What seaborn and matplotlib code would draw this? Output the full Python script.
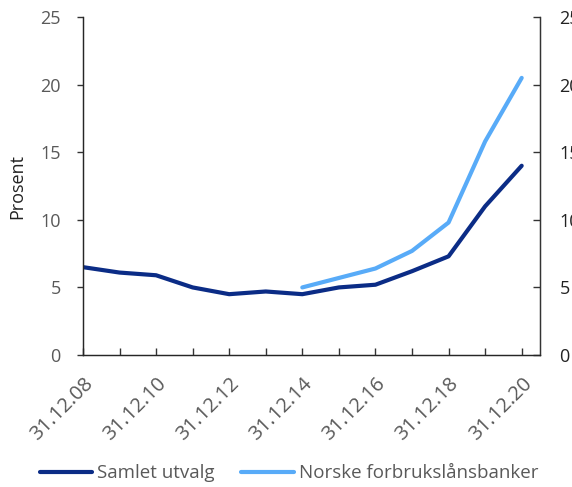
import numpy as np
import pandas as pd
import matplotlib
matplotlib.use("Agg")
import matplotlib.pyplot as plt
import seaborn as sns

# data
years = list(range(2008, 2021))
samlet = [6.5, 6.1, 5.9, 5.0, 4.5, 4.7, 4.5, 5.0, 5.2, 6.2, 7.3, 11.0, 14.0]
norske_years = list(range(2014, 2021))
norske = [5.0, 5.7, 6.4, 7.7, 9.8, 15.8, 20.5]
tick_years = list(range(2008, 2021, 2))
tick_labels = ["31.12.%02d" % (y % 100) for y in tick_years]
y_ticks = [0, 5, 10, 15, 20, 25]

dark = "#0B2C86"
light = "#58ABF8"
grey = "#595959"

sns.set_style("ticks")
plt.rcParams["font.family"] = ["Open Sans", "DejaVu Sans"]

df = pd.concat([
    pd.DataFrame({"year": years, "value": samlet, "serie": "Samlet utvalg"}),
    pd.DataFrame({"year": norske_years, "value": norske, "serie": "Norske forbrukslånsbanker"}),
])

fig = plt.figure(figsize=(5.72, 4.87), dpi=100)
ax = fig.add_axes([0.145, 0.271, 0.799, 0.694])

sns.lineplot(data=df, x="year", y="value", hue="serie",
             palette={"Samlet utvalg": dark, "Norske forbrukslånsbanker": light},
             linewidth=3, ax=ax, legend=False)

ax.set_xlim(2008, 2020.5)
ax.set_ylim(0, 25)
ax.set_xticks(tick_years)
ax.set_xticks(years, minor=True)
ax.set_xticklabels(tick_labels, rotation=45, ha="right", rotation_mode="anchor")
ax.set_yticks(y_ticks)
ax.set_xlabel("")
ax.set_ylabel("Prosent", fontsize=13, color="#222222", labelpad=10)

ax.spines["top"].set_visible(False)
for s in ["left", "bottom", "right"]:
    ax.spines[s].set_color("#333333")
    ax.spines[s].set_linewidth(1.0)

ax.tick_params(axis="y", direction="out", length=4, width=1, color="#333333",
               labelsize=13, labelcolor=grey, pad=12)
ax.tick_params(axis="x", which="both", direction="in", length=5, width=1,
               color="#333333", labelsize=14.5, labelcolor=grey, pad=13.5)

ax2 = ax.twinx()
ax2.set_ylim(0, 25)
ax2.set_yticks(y_ticks)
ax2.spines["top"].set_visible(False)
ax2.spines["right"].set_color("#333333")
ax2.tick_params(axis="y", direction="in", length=5, width=1, color="#333333",
                labelsize=13, labelcolor="#222222", pad=14)

handles = [plt.Line2D([], [], color=dark, lw=3),
           plt.Line2D([], [], color=light, lw=3)]
fig.legend(handles, ["Samlet utvalg", "Norske forbrukslånsbanker"],
           loc="center", bbox_to_anchor=(0.505, 0.028), ncol=2, frameon=False,
           fontsize=13.5, labelcolor=grey, handlelength=2.8, handletextpad=0.25,
           columnspacing=1.45)

fig.savefig("out.png", dpi=100)
